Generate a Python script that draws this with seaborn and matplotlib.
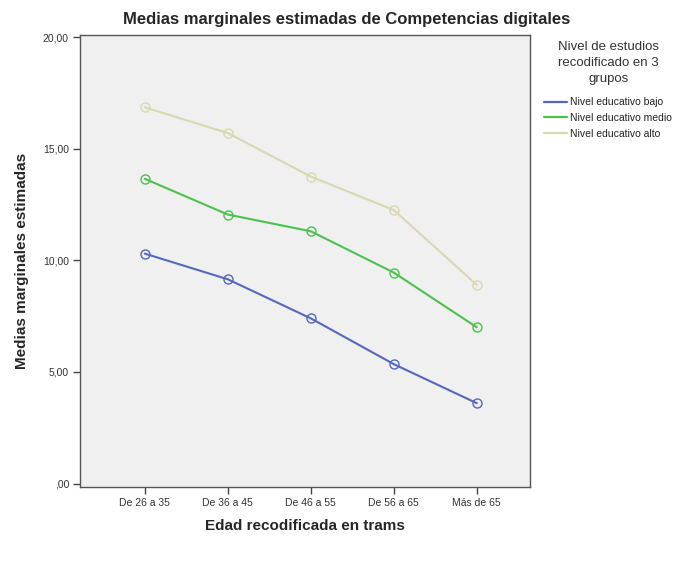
import matplotlib
matplotlib.use("Agg")
import matplotlib.pyplot as plt
from matplotlib.lines import Line2D
import seaborn as sns
import pandas as pd

categories = ["De 26 a 35", "De 36 a 45", "De 46 a 55", "De 56 a 65", "Más de 65"]
bajo = [10.3, 9.15, 7.4, 5.35, 3.6]
medio = [13.65, 12.05, 11.3, 9.45, 7.0]
alto = [16.85, 15.7, 13.75, 12.25, 8.9]
series_names = ["Nivel educativo bajo", "Nivel educativo medio", "Nivel educativo alto"]
colors = ["#5468bd", "#4cc24c", "#d9d8b0"]
ytick_vals = [0, 5, 10, 15, 20]
ytick_labels = [",00", "5,00", "10,00", "15,00", "20,00"]

rows = []
for name, vals in zip(series_names, [bajo, medio, alto]):
    for i, v in enumerate(vals):
        rows.append({"x": i, "edad": categories[i], "valor": v, "nivel": name})
df = pd.DataFrame(rows)

sns.set_style("white")
plt.rcParams["font.family"] = ["Liberation Sans", "DejaVu Sans"]

fig = plt.figure(figsize=(6.9, 5.61), dpi=100)
ax = fig.add_axes([0.116, 0.132, 0.652, 0.806])
ax.set_facecolor("#f0f0f0")

palette = dict(zip(series_names, colors))
sns.lineplot(data=df, x="x", y="valor", hue="nivel", palette=palette,
             hue_order=series_names, marker="o", markersize=6.5,
             markerfacecolor="none", markeredgewidth=1.0, linewidth=1.5,
             legend=False, ax=ax)
for line, c in zip(ax.get_lines(), colors):
    line.set_markeredgecolor(c)

ax.set_xlim(-0.78, 4.64)
ax.set_ylim(-0.15, 20.1)
ax.set_xticks(range(len(categories)))
ax.set_xticklabels(categories, fontsize=7.5, color="#333333")
ax.set_yticks(ytick_vals)
ax.set_yticklabels(ytick_labels, fontsize=7.5, color="#333333")
ax.tick_params(axis="both", direction="out", length=5, width=1, color="#444444",
               left=True, bottom=True, pad=3)
for s in ax.spines.values():
    s.set_color("#555555")
    s.set_linewidth(1.0)

ax.set_xlabel("Edad recodificada en trams", fontsize=11, fontweight="bold", labelpad=8)
ax.set_ylabel("Medias marginales estimadas", fontsize=11, fontweight="bold", labelpad=10)
fig.text(0.502, 0.966, "Medias marginales estimadas de Competencias digitales",
         ha="center", va="center", fontsize=12, fontweight="bold")

handles = [Line2D([0], [0], color=c, lw=1.6) for c in colors]
leg = fig.legend(handles, series_names, loc="upper left",
                 bbox_to_anchor=(0.783, 0.935), frameon=False, fontsize=7.5,
                 title="Nivel de estudios\nrecodificado en 3\ngrupos",
                 title_fontsize=9.5, handlelength=2.2, handletextpad=0.3,
                 labelspacing=0.55, borderaxespad=0)
leg.get_title().set_multialignment("center")
leg.get_title().set_linespacing(1.45)
leg.get_title().set_color("#333333")
leg._legend_box.sep = 9
for t in leg.get_texts():
    t.set_color("#222222")

fig.savefig("out.png", dpi=100)
